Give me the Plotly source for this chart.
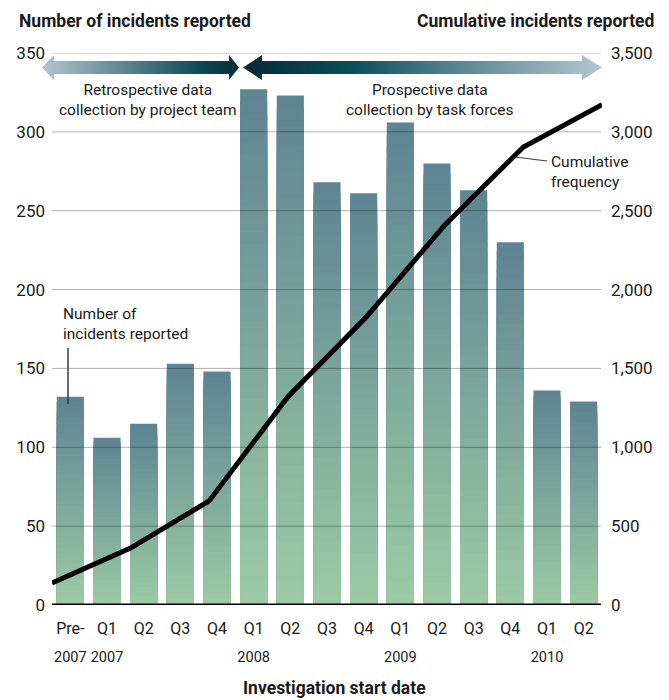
import plotly.graph_objects as go

FONT = "Roboto, DejaVu Sans Condensed, sans-serif"
# the page body has an 8px margin, so the figure is 8px smaller and all
# pixel positions below are given in screenshot coordinates
OFF = 8
W, H = 669 - OFF, 700 - OFF

# --- data -------------------------------------------------------------
quarters = ["Pre-2007", "Q1 2007", "Q2 2007", "Q3 2007", "Q4 2007",
            "Q1 2008", "Q2 2008", "Q3 2008", "Q4 2008",
            "Q1 2009", "Q2 2009", "Q3 2009", "Q4 2009",
            "Q1 2010", "Q2 2010"]
quarter_labels = ["Pre-", "Q1", "Q2", "Q3", "Q4",
                  "Q1", "Q2", "Q3", "Q4",
                  "Q1", "Q2", "Q3", "Q4",
                  "Q1", "Q2"]
year_ticks = ["Pre-2007", "Q1 2007", "Q1 2008", "Q1 2009", "Q1 2010"]
year_labels = ["2007", "2007", "2008", "2009", "2010"]
incidents = [132, 106, 115, 153, 148, 327, 323, 268, 261, 306, 280, 263, 230, 136, 129]

half_years = ["Pre-2007", "H1 2007", "H2 2007", "H1 2008", "H2 2008",
              "H1 2009", "H2 2009", "H1 2010"]
cumulative = [139, 361, 660, 1319, 1826, 2410, 2904, 3172]

left_ticks = [0, 50, 100, 150, 200, 250, 300, 350]
right_ticks = [0, 500, 1000, 1500, 2000, 2500, 3000, 3500]

# plot area in screenshot pixels
PL, PR, PT, PB = 52, 602, 53, 605
XD = [(PL - OFF) / W, (PR - OFF) / W]
YD = [1 - (PB - OFF) / H, 1 - (PT - OFF) / H]

BAR_TOP = (94, 131, 147)
BAR_BOTTOM = (156, 203, 165)


def mix(c1, c2, t):
    return "rgb(%d,%d,%d)" % tuple(round(a + (b - a) * t) for a, b in zip(c1, c2))


fig = go.Figure()

# bars with a vertical gradient: stacked overlays of shrinking height
steps = 40
for k in range(steps):
    frac = 1 - k / steps
    t = 1 - (k + 0.5) / steps
    fig.add_trace(go.Bar(
        x=quarters, y=[v * frac for v in incidents],
        marker=dict(color=mix(BAR_BOTTOM, BAR_TOP, t), line=dict(width=0)),
        hoverinfo="skip" if k else "x+y", showlegend=False,
    ))

# cumulative line on its own half-year axis
fig.add_trace(go.Scatter(
    x=half_years, y=cumulative, xaxis="x2", yaxis="y2", mode="lines",
    line=dict(color="black", width=5), showlegend=False,
))

# invisible anchor so the year-label axis gets drawn
year_pos = [quarters.index(q) for q in year_ticks]
fig.add_trace(go.Scatter(
    x=year_pos, y=[0] * len(year_pos), xaxis="x4", yaxis="y", mode="markers",
    marker=dict(opacity=0), hoverinfo="skip", showlegend=False,
))


# decorative arrows (pixel coordinate overlay)
def arrow(x0, x1, h0, h1, colors, yc=67.5):
    s, hh = 6.5, 12.5
    xs = [x0, x0 + h0, x0 + h0, x1 - h1, x1 - h1, x1, x1 - h1, x1 - h1, x0 + h0, x0 + h0, x0]
    ys = [yc, yc - hh, yc - s, yc - s, yc - hh, yc, yc + hh, yc + s, yc + s, yc + hh, yc]
    fig.add_trace(go.Scatter(
        x=xs, y=ys, xaxis="x3", yaxis="y3", mode="lines", line=dict(width=0),
        fill="toself",
        fillgradient=dict(type="horizontal", colorscale=colors, start=x0, stop=x1),
        hoverinfo="skip", showlegend=False,
    ))


arrow(42, 239, 12, 10, [[0, "#b2c6ce"], [0.45, "#557f8d"], [0.8, "#0d4a56"], [1, "#082c38"]])
arrow(243, 602, 19, 20, [[0, "#062a36"], [0.3, "#0b4d5a"], [0.6, "#5a8594"], [1, "#b4c8d0"]])

# grid lines drawn over the bars
shapes = [dict(type="line", xref="paper", x0=XD[0], x1=XD[1] - 1 / W, yref="y", y0=v, y1=v,
               line=dict(color="rgba(0,0,0,0.3)", width=1), layer="above")
          for v in left_ticks[1:]]
shapes.append(dict(type="line", xref="paper", x0=XD[0], x1=XD[1] - 1 / W, yref="y", y0=0, y1=0,
                   line=dict(color="black", width=3), layer="above"))
# leader lines
shapes.append(dict(type="line", xref="x3", yref="y3", x0=68, x1=68, y0=348, y1=404,
                   line=dict(color="#3a3a3a", width=1.5)))
shapes.append(dict(type="line", xref="x3", yref="y3", x0=515, x1=547, y0=157, y1=161,
                   line=dict(color="#3a3a3a", width=1.2)))


def note(text, x, y, anchor="center", size=15.5, bold=False):
    if bold:
        text = "<b>" + text + "</b>"
    return dict(text=text, xref="x3", yref="y3", x=x, y=y, xanchor=anchor, yanchor="middle",
                showarrow=False, align=anchor if anchor != "center" else "center",
                font=dict(family=FONT, size=size, color="#1a1a1a"))


annotations = [
    note("Number of incidents reported", 17, 21, "left", 17.5, True),
    note("Cumulative incidents reported", 656, 21, "right", 17.5, True),
    note("Retrospective data<br>collection by project team", 148, 100),
    note("Prospective data<br>collection by task forces", 430, 100),
    note("Number of<br>incidents reported", 61, 324, "left"),
    note("Cumulative<br>frequency", 549, 172, "left"),
    note("Investigation start date", 334, 688, "center", 17.5, True),
]

fig.update_layout(
    width=W, height=H,
    margin=dict(l=0, r=0, t=0, b=0, autoexpand=False),
    paper_bgcolor="white", plot_bgcolor="rgba(0,0,0,0)",
    barmode="overlay", bargap=0.26,
    font=dict(family=FONT, size=17, color="#1a1a1a"),
    xaxis=dict(domain=XD, type="category", tickvals=quarters, ticktext=quarter_labels,
               showgrid=False, zeroline=False, showline=False, ticks="", tickangle=0,
               ticklabelstandoff=12, automargin=False, tickfont=dict(size=16), fixedrange=True),
    xaxis2=dict(domain=XD, overlaying="x", type="category", range=[0, 7],
                visible=False, automargin=False, fixedrange=True),
    xaxis4=dict(domain=XD, overlaying="x", anchor="y", side="bottom", type="linear",
                range=[-0.5, len(quarters) - 0.5],
                tickvals=year_pos, ticktext=year_labels,
                showgrid=False, zeroline=False, showline=False, ticks="", tickangle=0,
                ticklabelstandoff=41, automargin=False, tickfont=dict(size=14.5),
                fixedrange=True),
    yaxis=dict(domain=YD, range=[0, 350], tickvals=left_ticks,
               showgrid=False, zeroline=False, ticks="", ticklabelstandoff=6,
               automargin=False, tickfont=dict(size=17), fixedrange=True),
    yaxis2=dict(domain=YD, overlaying="y", side="right", anchor="x",
                range=[0, 3500], tickvals=right_ticks, tickformat=",", showgrid=False,
                zeroline=False, ticks="", ticklabelstandoff=8, automargin=False,
                tickfont=dict(size=17), fixedrange=True),
    xaxis3=dict(domain=[0, 1], range=[OFF, 669], visible=False, automargin=False,
                fixedrange=True),
    yaxis3=dict(domain=[0, 1], range=[700, OFF], visible=False, automargin=False,
                fixedrange=True, anchor="x3"),
    shapes=shapes,
    annotations=annotations,
)

fig.write_html("out.html")
